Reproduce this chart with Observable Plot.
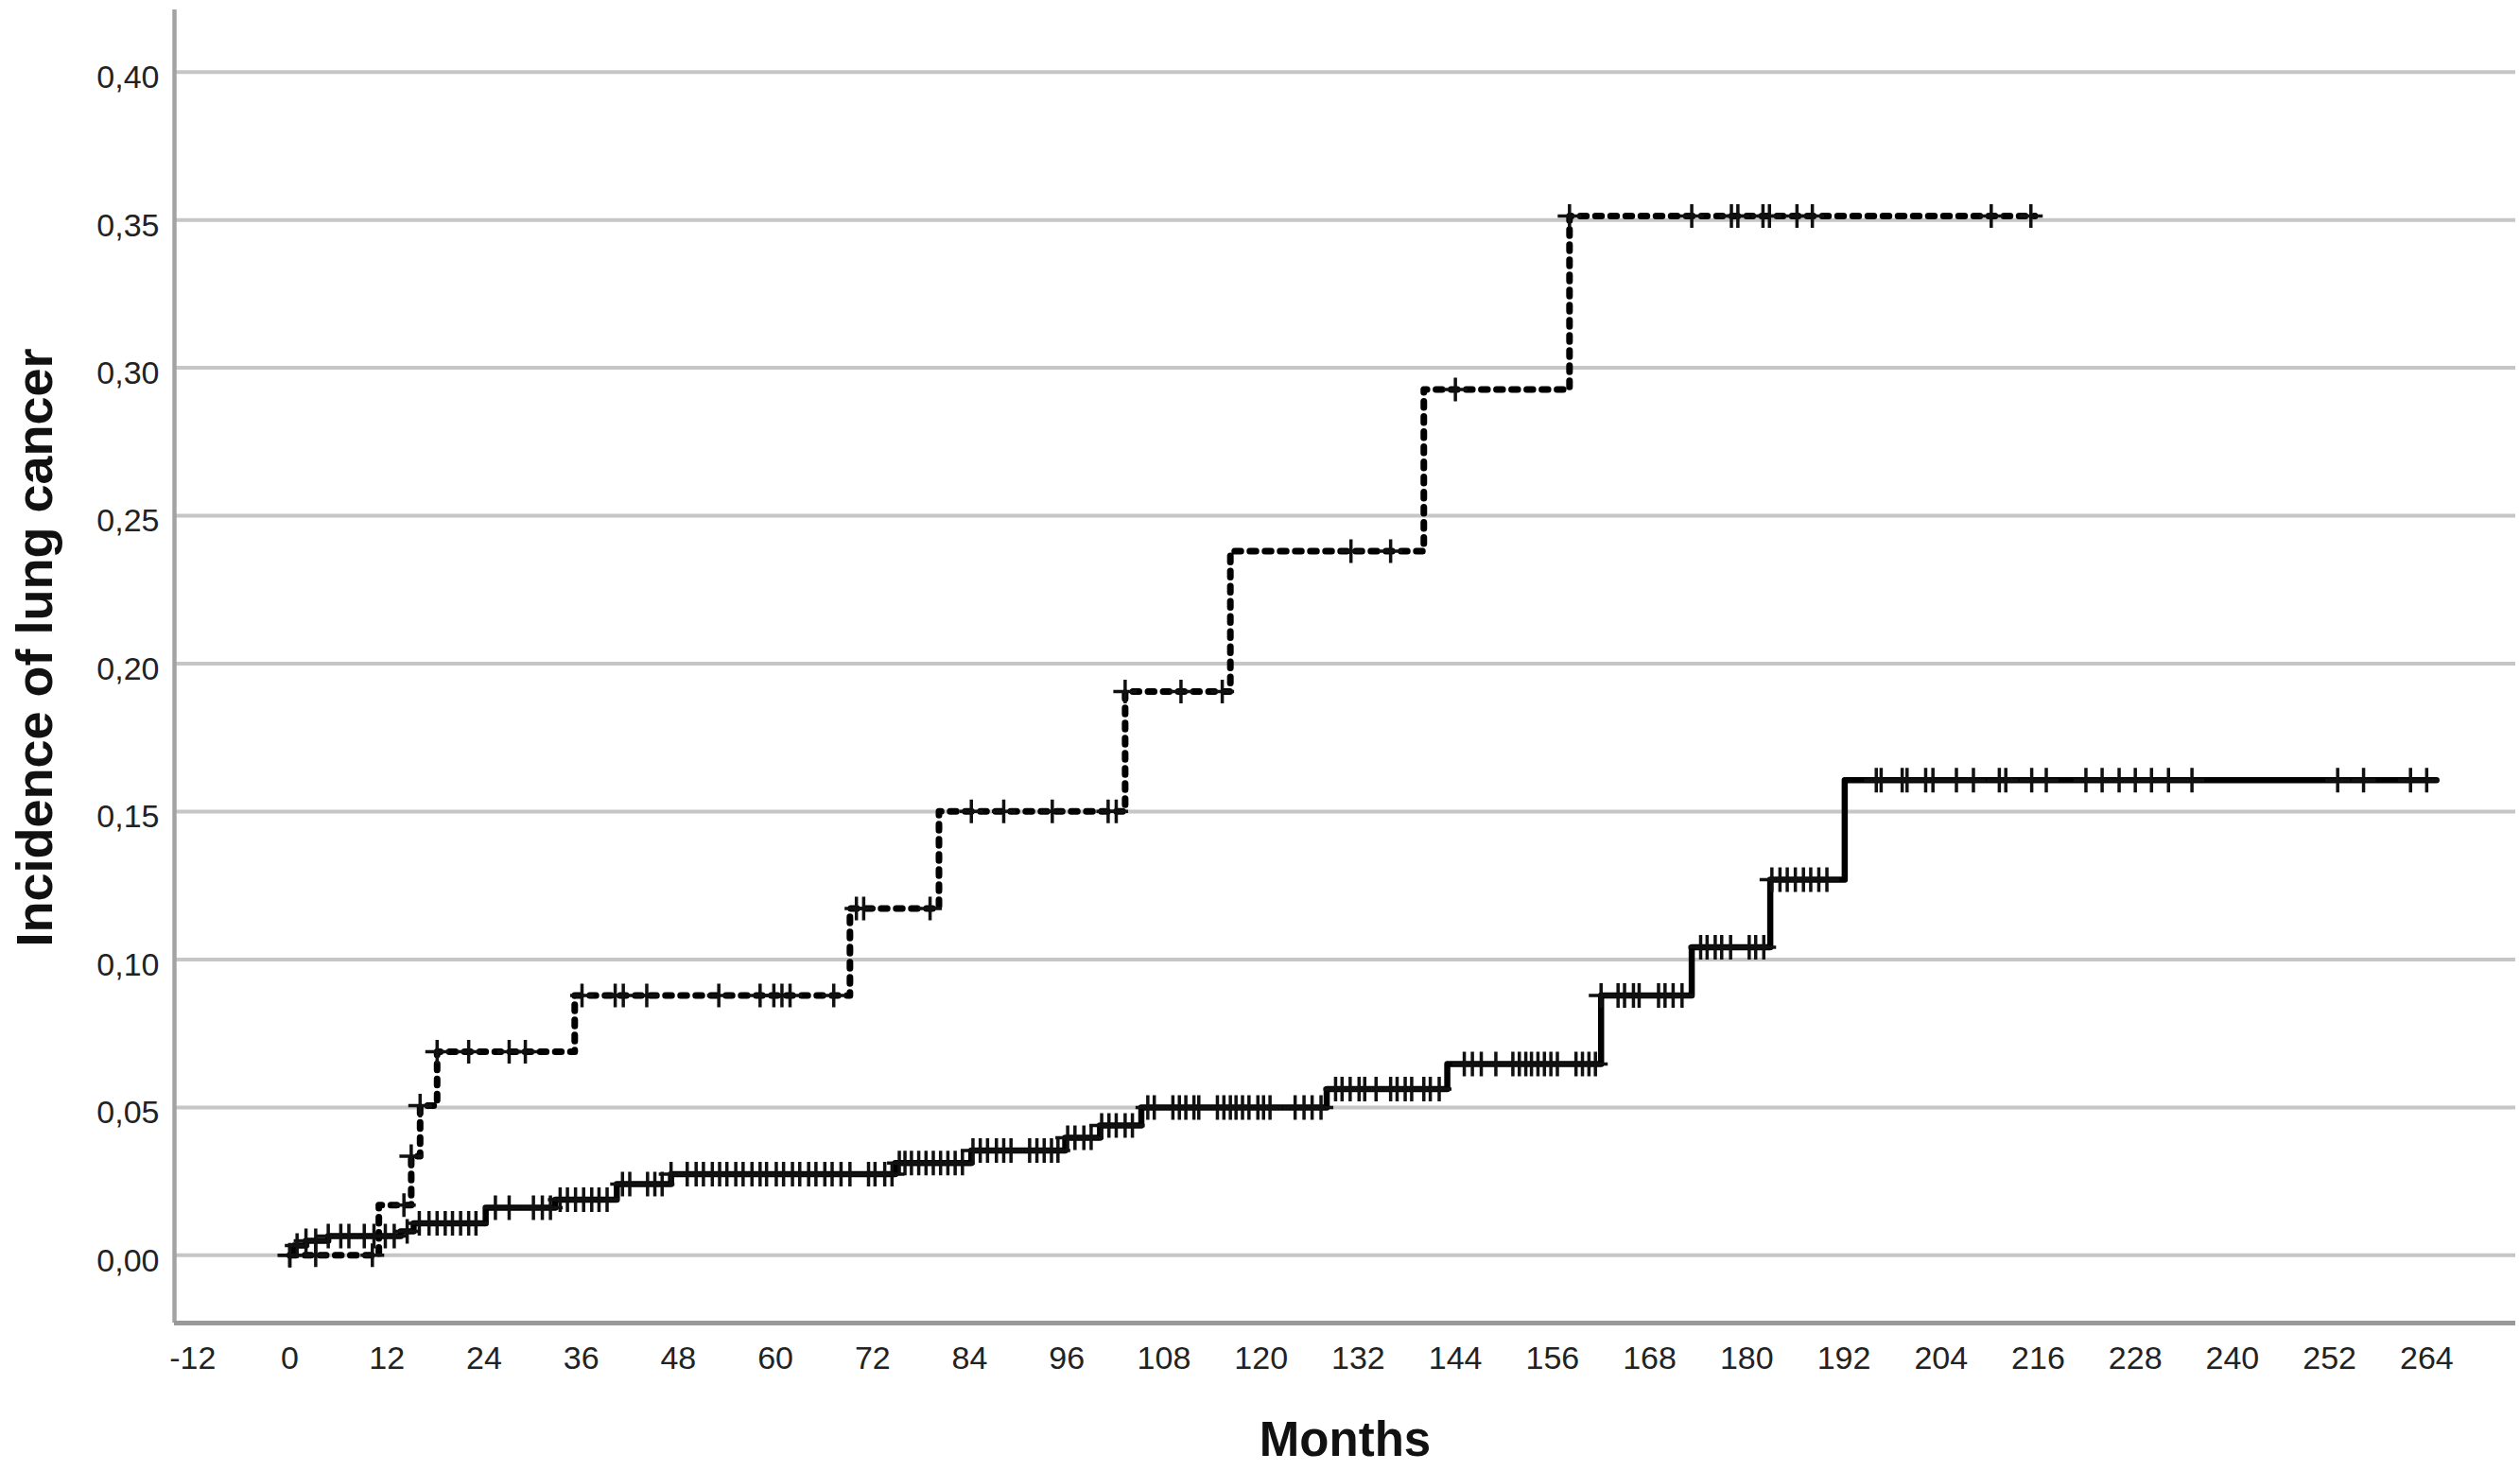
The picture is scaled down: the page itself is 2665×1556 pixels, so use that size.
<!DOCTYPE html>
<html>
<head>
<meta charset="utf-8">
<script src="https://cdn.jsdelivr.net/npm/d3@7"></script>
<script src="https://cdn.jsdelivr.net/npm/@observablehq/plot@0.6"></script>
<style>
html, body { margin: 0; padding: 0; background: #ffffff; overflow: hidden; }
#chart { width: 2665px; height: 1556px; }
</style>
</head>
<body>
<div id="chart"></div>
<script>
// ---- Tick labels ----
const xTicks = [-12, 0, 12, 24, 36, 48, 60, 72, 84, 96, 108, 120, 132, 144, 156, 168, 180, 192, 204, 216, 228, 240, 252, 264];
const yTicks = [0, 0.05, 0.10, 0.15, 0.20, 0.25, 0.30, 0.35, 0.40];
const xTitle = "Months";
const yTitle = "Incidence of lung cancer";

// ---- Dashed curve (higher-risk group): step times (months) and cumulative incidence ----
const dashedStepTimes  = [0, 11.0, 15.0, 16.1, 18.2, 35.2, 69.2, 80.2, 103.2, 116.2, 140.1, 158.1];
const dashedStepValues = [0, 0.0170, 0.0335, 0.0506, 0.0688, 0.0878, 0.1172, 0.1501, 0.1906, 0.2380, 0.2927, 0.3513];
const dashedEndTime = 215.6;
const dashedCensorTimes = [0, 3.2, 10.2, 14.1, 15.0, 16.1, 18.2, 22.1, 27.1, 29.1,
  36.1, 40.2, 41.2, 44.1, 53.0, 58.1, 59.8, 60.8, 61.8, 67.2,
  70.0, 70.9, 79.1, 84.2, 88.2, 94.2, 101.1, 102.1, 103.2, 110.1, 115.2,
  131.1, 136.0, 144.0, 158.1, 173.2, 178.1, 178.9, 182.0, 182.8, 186.2, 188.1, 210.2, 215.1];

// ---- Solid curve (lower-risk group) ----
const solidStepTimes  = [0, 0.5, 2.0, 4.75, 13.7, 15.3, 24.2, 32.8, 40.4, 47.1, 74.8, 84.2, 95.8, 100.1, 105.2, 128.1, 143.0, 162.0, 173.2, 182.9, 192.1];
const solidStepValues = [0, 0.0033, 0.0049, 0.0065, 0.0081, 0.0108, 0.0161, 0.0188, 0.0241, 0.0274, 0.0312, 0.0354, 0.0397, 0.0439, 0.0500, 0.0562, 0.0647, 0.0878, 0.1041, 0.1270, 0.1606];
const solidEndTime = 265.2;
const solidCensorTimes = [0, 0.9, 2.0, 3.2, 4.75, 6.3, 7.3, 9.2, 10.4, 11.8, 12.9, 14.5,
  16.0, 17.2, 18.2, 19.2, 20.1, 21.1, 22.1, 23.0,
  25.4, 27.1, 30.1, 31.2, 32.2,
  33.4, 34.3, 35.3, 36.3, 37.3, 38.2, 39.2,
  41.1, 42.0, 44.2, 45.1, 46.0,
  47.1, 49.1, 50.2, 51.1, 52.2, 53.1, 54.0, 55.1, 56.0, 57.1, 58.1, 58.9, 60.1, 61.0, 62.1, 63.0, 64.1, 65.0, 66.1, 67.0, 68.1, 69.2, 71.5, 72.3, 73.5, 74.4,
  75.3, 76.0, 76.8, 77.7, 78.6, 79.5, 80.4, 81.3, 82.2, 83.1,
  84.4, 85.3, 86.2, 87.3, 88.2, 89.1, 91.4, 92.3, 93.2, 94.1, 94.9,
  96.1, 97.0, 98.1, 99.0,
  100.3, 101.2, 102.1, 103.2, 104.1,
  106.0, 106.8, 109.1, 109.9, 110.7, 111.7, 112.3, 114.6, 115.4, 116.2, 116.9, 117.7, 118.5, 119.6, 120.3, 121.1, 124.2, 125.3, 126.3, 127.4,
  129.2, 130.0, 131.0, 132.1, 132.8, 134.2, 136.0, 136.8, 137.8, 138.6, 140.1, 140.9, 142.0,
  145.1, 146.1, 147.2, 149.0, 151.1, 151.9, 152.7, 153.4, 154.2, 155.0, 155.8, 156.6, 158.9, 159.7, 160.5, 161.3,
  162.0, 164.1, 164.9, 166.0, 166.7, 169.1, 169.9, 170.9, 172.0,
  174.3, 175.1, 176.1, 176.9, 178.0, 180.3, 181.1, 182.1,
  183.1, 184.1, 185.0, 186.0, 187.0, 187.9, 188.9, 189.9,
  196.0, 196.6, 199.2, 199.8, 202.1, 203.0, 205.9, 208.0, 211.2, 212.0, 215.2, 217.0, 221.9, 223.9, 226.0, 228.0, 230.0, 232.1, 235.0, 253.0, 256.2, 262.0, 264.0];

// ---- Build tables ----
function stepTable(times, values, endTime) {
  const rows = times.map((t, i) => ({t, v: values[i]}));
  rows.push({t: endTime, v: values[values.length - 1]});
  return rows;
}
function levelAt(times, values, t) {
  let v = values[0];
  for (let i = 0; i < times.length; i++) if (times[i] <= t + 1e-9) v = values[i];
  return v;
}
const dashedLine = stepTable(dashedStepTimes, dashedStepValues, dashedEndTime);
const solidLine = stepTable(solidStepTimes, solidStepValues, solidEndTime);
const dashedCensor = dashedCensorTimes.map(t => ({t, v: levelAt(dashedStepTimes, dashedStepValues, t)}));
const solidCensor = solidCensorTimes.map(t => ({t, v: levelAt(solidStepTimes, solidStepValues, t)}));

const xDomain = [-14.25, 275];
const yDomain = [-0.0229, 0.421];

const cross = {
  draw(ctx, size) {
    const r = Math.sqrt(size / Math.PI);
    ctx.moveTo(-r, 0); ctx.lineTo(r, 0);
    ctx.moveTo(0, -r); ctx.lineTo(0, r);
  }
};

const fmt = d => d.toFixed(2).replace(".", ",");
const font = "'Liberation Sans', Arial, Helvetica, sans-serif";

const chart = Plot.plot({
  width: 2665,
  height: 1556,
  marginLeft: 184,
  marginRight: 5,
  marginTop: 10,
  marginBottom: 157,
  style: {fontFamily: font, fontSize: "34px", background: "#ffffff", color: "#222"},
  x: {domain: xDomain},
  y: {domain: yDomain},
  marks: [
    Plot.ruleY(yTicks, {stroke: "#c6c6c6", strokeWidth: 4}),
    Plot.ruleX([xDomain[0]], {stroke: "#a3a3a3", strokeWidth: 4.5}),
    Plot.ruleY([yDomain[0]], {stroke: "#999999", strokeWidth: 5}),
    Plot.axisY({ticks: yTicks, tickSize: 0, tickPadding: 16, tickFormat: fmt, label: null, fontSize: 34, dy: 6, color: "#222"}),
    Plot.axisX({ticks: xTicks, tickSize: 0, tickPadding: 24, tickFormat: d => String(d), label: null, fontSize: 34, color: "#222"}),
    Plot.line(dashedLine, {x: "t", y: "v", curve: "step-after", stroke: "#000", strokeWidth: 7, strokeDasharray: "6.5 9.5"}),
    Plot.line(solidLine, {x: "t", y: "v", curve: "step-after", stroke: "#000", strokeWidth: 6.5}),
    Plot.dot(dashedCensor, {x: "t", y: "v", symbol: cross, r: 12.5, stroke: "#111", strokeWidth: 3.5, fill: "none"}),
    Plot.dot(solidCensor, {x: "t", y: "v", symbol: cross, r: 13, stroke: "#111", strokeWidth: 3.5, fill: "none"}),
    Plot.text([xTitle], {frameAnchor: "bottom", text: d => d, dy: 104, lineAnchor: "top", fontSize: 51, fontWeight: "bold", fill: "#111"}),
    Plot.text([yTitle], {frameAnchor: "left", text: d => d, dx: -168, dy: -20, rotate: -90, textAnchor: "middle", lineAnchor: "top", fontSize: 54, fontWeight: "bold", fill: "#111"})
  ]
});
document.getElementById("chart").appendChild(chart);
</script>
</body>
</html>
